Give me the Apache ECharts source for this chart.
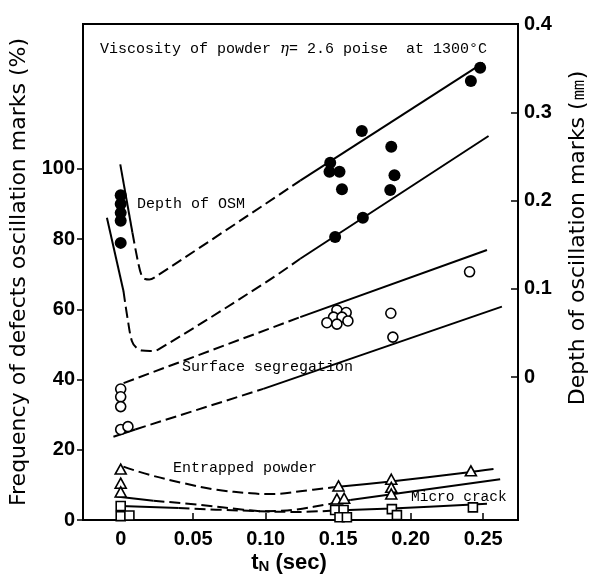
<!DOCTYPE html>
<html>
<head>
<meta charset="utf-8">
<script src="https://cdn.jsdelivr.net/npm/echarts@6/dist/echarts.min.js"></script>
<style>html,body{margin:0;padding:0;background:#fff;}#c{width:590px;height:579px;}</style>
</head>
<body>
<div id="c"></div>
<script>
// ---- axes ----
const xTicks = [0, 0.05, 0.10, 0.15, 0.20, 0.25];
const xTickLabels = ['0', '0.05', '0.10', '0.15', '0.20', '0.25'];
const leftTicks = [0, 20, 40, 60, 80, 100];
const rightTicks = [0, 0.1, 0.2, 0.3, 0.4];
const rightTickLabels = ['0', '0.1', '0.2', '0.3', '0.4'];

// ---- measured points [tN (sec), value] ----
// Depth of OSM (mm, right axis) - filled circles
const osmDepth = [[0,0.206],[0,0.196],[0,0.186],[0,0.177],[0,0.152],
  [0.1445,0.2428],[0.1440,0.2326],[0.1509,0.2326],[0.1526,0.2127],[0.1479,0.1586],
  [0.1663,0.2788],[0.1670,0.1805],[0.1866,0.2610],[0.1888,0.2286],[0.1859,0.2119],
  [0.2415,0.3354],[0.2479,0.3505]];
// Surface segregation (%) - open circles
const surfSeg = [[0,37.3],[0,35.1],[0,32.3],[0,25.8],[0.005,26.6],
  [0.1491,59.8],[0.1555,59.1],[0.1468,57.8],[0.1526,57.8],[0.1422,56.2],[0.1491,55.8],[0.1567,56.7],
  [0.1863,58.9],[0.1877,52.1],[0.2406,70.7]];
// Entrapped powder (%) - open triangles
const entrapped = [[0,14.5],[0,10.5],[0,8.0],[0.1502,9.7],[0.1491,6.0],[0.1541,6.2],
  [0.1866,11.6],[0.1866,9.3],[0.1866,7.4],[0.2415,14.0]];
// Micro crack (%) - open squares
const microCrack = [[0,4.0],[0,1.1],[0.006,1.3],[0.1479,2.85],[0.1537,2.85],[0.1509,0.8],[0.156,0.8],
  [0.187,3.1],[0.1905,1.4],[0.2429,3.6]];

// ---- fitted curves ----
const osmUpperSolidA = [[-0.0003,0.241],[0.0081,0.1635]];
const osmUpperDashed = [[0.0081,0.1635],[0.0121,0.1292],[0.0146,0.1144],[0.0169,0.1110],[0.0197,0.1105],[0.0238,0.1133],[0.1238,0.2225]];
const osmUpperSolidB = [[0.1238,0.2225],[0.25,0.3560]];
const osmLowerSolidA = [[-0.0095,0.1805],[0.0019,0.0975]];
const osmLowerDashed = [[0.0019,0.0975],[0.0048,0.0657],[0.0077,0.0408],[0.0107,0.0334],[0.0148,0.0300],[0.0203,0.0295],[0.0261,0.0314],[0.0997,0.1069],[0.1238,0.134]];
const osmLowerSolidB = [[0.1238,0.134],[0.2537,0.2731]];

const surfUpperDashed = [[0.002,39.0],[0.1238,57.8]];
const surfUpperSolid = [[0.1238,57.8],[0.2526,76.9]];
const surfLowerSolidA = [[-0.005,23.7],[0.01,25.8]];
const surfLowerDashed = [[0.01,25.8],[0.0983,37.35]];
const surfLowerSolidB = [[0.0983,37.35],[0.2629,60.8]];

const entrUpperDashed = [[0.0019,15.2],[0.0203,12.8],[0.0433,10.5],[0.0663,8.6],[0.09,7.6],[0.10,7.4],[0.11,7.5],[0.1238,8.2],[0.1466,9.3]];
const entrUpperSolid = [[0.1466,9.3],[0.1847,10.9],[0.2388,13.5],[0.2571,14.5]];
const entrLowerSolidA = [[-0.003,6.7],[0.0226,5.5]];
const entrLowerDashed = [[0.0226,5.5],[0.0548,4.3],[0.0847,2.95],[0.0985,2.5],[0.11,2.6],[0.1215,3.0],[0.1445,4.6],[0.1583,5.7]];
const entrLowerSolidB = [[0.1583,5.7],[0.2617,11.6]];

const microSolidA = [[0,4.0],[0.04,3.4]];
const microDashed = [[0.04,3.4],[0.0824,2.7],[0.1215,2.3],[0.148,2.7]];
const microSolidB = [[0.148,2.7],[0.187,3.3],[0.2526,4.6]];

const chart = echarts.init(document.getElementById('c'), null, {renderer: 'canvas'});
const tickFont = {color: '#000', fontFamily: '"Liberation Sans", Arial, sans-serif', fontWeight: 'bold', fontSize: 20};
const titleFamily = '"DejaVu Sans", "Liberation Sans", sans-serif';
const monoFont = '"Liberation Mono", "DejaVu Sans Mono", monospace';

function lineSeries(data, axis, dashed, smooth) {
  return {
    type: 'line', data: data, yAxisIndex: axis, symbol: 'none', smooth: smooth ? 0.35 : false,
    z: 2, silent: true, animation: false,
    lineStyle: {color: '#000', width: 2, type: dashed ? [11, 5] : 'solid', cap: 'butt'}
  };
}
function markSeries(data, axis, symbol, size, filled) {
  return {
    type: 'scatter', data: data, yAxisIndex: axis, symbol: symbol, symbolSize: size, z: 5,
    animation: false,
    itemStyle: {color: filled ? '#000' : '#fff', borderColor: '#000', borderWidth: filled ? 0 : 1.6, opacity: 1}
  };
}
function note(text, x, y, size) {
  return {type: 'text', x: x, y: y, z: 100,
    style: {text: text, font: size + 'px ' + monoFont, fill: '#000', textVerticalAlign: 'middle', verticalAlign: 'middle'}};
}

chart.setOption({
  animation: false,
  backgroundColor: '#fff',
  grid: {left: 83, right: 72, top: 24, bottom: 59, show: true, borderColor: '#000', borderWidth: 2, backgroundColor: 'transparent'},
  xAxis: {
    type: 'value', min: -0.026, max: 0.274,
    axisLine: {show: true, onZero: false, lineStyle: {color: '#000', width: 2}},
    axisTick: {show: true, inside: true, length: 7, customValues: xTicks, lineStyle: {color: '#000', width: 1.5}},
    axisLabel: Object.assign({customValues: xTicks, margin: 9,
      formatter: function (v) { const i = xTicks.findIndex(t => Math.abs(t - v) < 1e-9); return i >= 0 ? xTickLabels[i] : ''; }}, tickFont),
    splitLine: {show: false}
  },
  yAxis: [{
    type: 'value', min: 0, max: 141.3, position: 'left',
    name: 'Frequency of defects oscillation marks (%)', nameLocation: 'middle', nameRotate: 90, nameGap: 42,
    nameTextStyle: {color: '#000', fontFamily: titleFamily, fontSize: 22},
    axisLine: {show: true, onZero: false, lineStyle: {color: '#000', width: 2}},
    axisTick: {show: true, inside: false, length: 6, customValues: leftTicks, lineStyle: {color: '#000', width: 1.5}},
    axisLabel: Object.assign({customValues: leftTicks, margin: 8}, tickFont),
    splitLine: {show: false}
  }, {
    type: 'value', min: -0.162, max: 0.4, position: 'right',
    axisLine: {show: true, onZero: false, lineStyle: {color: '#000', width: 2}},
    axisTick: {show: true, inside: true, length: 7, customValues: rightTicks, lineStyle: {color: '#000', width: 1.5}},
    axisLabel: Object.assign({customValues: rightTicks, margin: 6,
      formatter: function (v) { const i = rightTicks.findIndex(t => Math.abs(t - v) < 1e-9); return i >= 0 ? rightTickLabels[i] : ''; }}, tickFont),
    splitLine: {show: false}
  }],
  graphic: [
    {type: 'text', x: 100, y: 49, z: 100,
      style: {text: '{t|Viscosity of powder }{i|η}{t|= 2.6 poise  at 1300°C}', textVerticalAlign: 'middle', verticalAlign: 'middle',
        rich: {t: {font: '15px ' + monoFont, fill: '#000'}, i: {font: 'italic 15px "DejaVu Serif", serif', fill: '#000'}}}},
    note('Depth of OSM', 137, 204, 15),
    note('Surface segregation', 182, 367, 15),
    note('Entrapped powder', 173, 468, 15),
    note('Micro crack', 411, 497, 14.5),
    {type: 'text', x: 578, y: 238, rotation: Math.PI / 2, z: 100,
      style: {text: 'Depth of oscillation marks (㎜)', font: '22px ' + titleFamily, fill: '#000',
        textAlign: 'center', align: 'center', textVerticalAlign: 'middle', verticalAlign: 'middle'}},
    {type: 'text', x: 289, y: 563, z: 100,
      style: {text: '{a|t}{b|N}{a| (sec)}', textAlign: 'center', align: 'center', textVerticalAlign: 'middle', verticalAlign: 'middle',
        rich: {a: {font: 'bold 22px "Liberation Sans", Arial, sans-serif', fill: '#000', verticalAlign: 'bottom'},
               b: {font: 'bold 15px "Liberation Sans", Arial, sans-serif', fill: '#000', verticalAlign: 'bottom'}}}}
  ],
  series: [
    lineSeries(osmUpperSolidA, 1, false, false),
    lineSeries(osmUpperDashed, 1, true, true),
    lineSeries(osmUpperSolidB, 1, false, false),
    lineSeries(osmLowerSolidA, 1, false, false),
    lineSeries(osmLowerDashed, 1, true, true),
    lineSeries(osmLowerSolidB, 1, false, false),
    lineSeries(surfUpperDashed, 0, true, false),
    lineSeries(surfUpperSolid, 0, false, false),
    lineSeries(surfLowerSolidA, 0, false, false),
    lineSeries(surfLowerDashed, 0, true, false),
    lineSeries(surfLowerSolidB, 0, false, false),
    lineSeries(entrUpperDashed, 0, true, true),
    lineSeries(entrUpperSolid, 0, false, true),
    lineSeries(entrLowerSolidA, 0, false, false),
    lineSeries(entrLowerDashed, 0, true, true),
    lineSeries(entrLowerSolidB, 0, false, false),
    lineSeries(microSolidA, 0, false, false),
    lineSeries(microDashed, 0, true, true),
    lineSeries(microSolidB, 0, false, true),
    markSeries(osmDepth, 1, 'circle', 12, true),
    markSeries(surfSeg, 0, 'circle', 10, false),
    markSeries(entrapped, 0, 'triangle', [11, 10], false),
    markSeries(microCrack, 0, 'rect', 9, false)
  ]
});
</script>
</body>
</html>
